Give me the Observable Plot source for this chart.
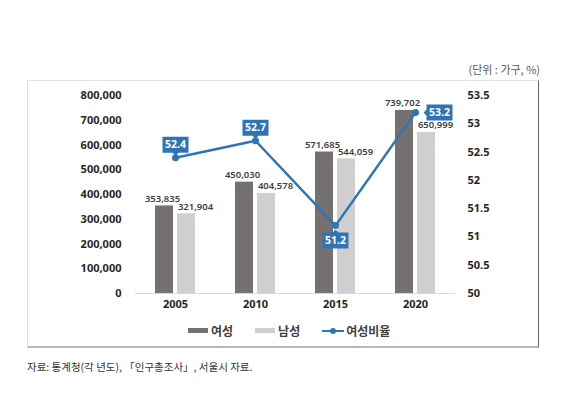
<!DOCTYPE html>
<html>
<head>
<meta charset="utf-8">
<script src="https://cdn.jsdelivr.net/npm/d3@7"></script>
<script src="https://cdn.jsdelivr.net/npm/@observablehq/plot@0.6"></script>
<style>
  html, body { margin: 0; padding: 0; background: #fff; }
  body { width: 569px; height: 396px; position: relative; overflow: hidden;
         font-family: 'Noto Sans', 'Noto Sans CJK KR', sans-serif; }
  #unit { position: absolute; right: 29px; top: 61px; font-size: 11px; color: #595959;
          font-family: 'Noto Sans CJK KR', sans-serif; }
  #frame { position: absolute; left: 27px; top: 80px; width: 512px; height: 268px;
           border-top: 1px solid #e4e4e4; border-left: 1px solid #e4e4e4;
           border-right: 1.5px solid #666; border-bottom: 2px solid #b8b8b8; box-sizing: border-box; }
  #chart { position: absolute; left: 27px; top: 80px; }
  #chart svg { overflow: visible; }
  #legend { position: absolute; left: 188px; top: 322px; display: flex; align-items: center;
            font-size: 12px; font-weight: bold; color: #404040; font-family: 'Noto Sans CJK KR', sans-serif; }
  .item { display: flex; align-items: center; margin-right: 22px; }
  .sw { width: 20px; height: 5px; margin-right: 3px; }
  .ln { width: 22px; height: 10px; margin-right: 2px; position: relative; }
  .ln::before { content: ""; position: absolute; left: 0; right: 0; top: 4px; height: 2px; background: #2e75b6; }
  .ln::after { content: ""; position: absolute; left: 8px; top: 2px; width: 6px; height: 6px; border-radius: 50%; background: #2e75b6; }
  #caption { position: absolute; left: 27px; top: 359px; font-size: 10.5px; color: #333;
             font-family: 'Noto Sans CJK KR', sans-serif; }
</style>
</head>
<body>
<div id="unit">(단위 : 가구, %)</div>
<div id="frame"></div>
<div id="chart"></div>
<div id="legend"></div>
<div id="caption">자료: 통계청(각 년도), 「인구총조사」, 서울시 자료.</div>
<script>
// ---- data ----
const years = ["2005", "2010", "2015", "2020"];
const female = [353835, 450030, 571685, 739702];
const male = [321904, 404578, 544059, 650999];
const femaleRatio = [52.4, 52.7, 51.2, 53.2];
const leftTicks = [0, 100000, 200000, 300000, 400000, 500000, 600000, 700000, 800000];
const rightTicks = [50, 50.5, 51, 51.5, 52, 52.5, 53, 53.5];
const seriesNames = ["여성", "남성", "여성비율"];

// ---- styles ----
const cFemale = "#767171";
const cMale = "#d0cece";
const cRatio = "#2e75b6";

const rows = years.map((y, i) => ({ year: y, female: female[i], male: male[i], ratio: femaleRatio[i] }));

// map the right (ratio) axis onto the left (count) scale
const rMin = rightTicks[0], rMax = rightTicks[rightTicks.length - 1];
const lMax = leftTicks[leftTicks.length - 1];
const toLeft = r => (r - rMin) / (rMax - rMin) * lMax;
const fromLeft = v => v / lMax * (rMax - rMin) + rMin;
const fmt = d3.format(",");
const fmtR = v => String(+v.toFixed(1));

// callout glyphs (box + pointer), drawn relative to the point
const calloutAbove = { draw(ctx) { ctx.rect(-13, -21, 26, 16); ctx.moveTo(-3, -5); ctx.lineTo(3, -5); ctx.lineTo(0, -2); ctx.closePath(); } };
const calloutBelow = { draw(ctx) { ctx.rect(-13, 7, 26, 16); ctx.moveTo(-3, 7); ctx.lineTo(3, 7); ctx.lineTo(0, 4); ctx.closePath(); } };
const calloutRight = { draw(ctx) { ctx.rect(11, -8, 26, 16); ctx.moveTo(11, -3); ctx.lineTo(11, 3); ctx.lineTo(8, 0); ctx.closePath(); } };

const above = rows.filter(d => d.year === "2005" || d.year === "2010");
const below = rows.filter(d => d.year === "2015");
const right = rows.filter(d => d.year === "2020");
const ry = d => toLeft(d.ratio);

const labelStyle = { fill: "#fff", fontWeight: "bold", fontSize: 10.5, text: d => fmtR(d.ratio) };

const chart = Plot.plot({
  width: 513,
  height: 240,
  marginLeft: 108,
  marginRight: 85,
  marginTop: 15,
  marginBottom: 27,
  style: { fontFamily: "'Noto Sans', 'Noto Sans CJK KR', sans-serif", fontSize: "11px", color: "#262626", background: "transparent" },
  x: { domain: years, padding: 0, axis: null, label: null },
  y: { domain: [0, lMax], axis: null, label: null },
  marks: [
    Plot.axisY(leftTicks, { anchor: "left", tickSize: 0, tickPadding: 14, tickFormat: fmt, fontWeight: "bold", fontSize: 11, label: null }),
    Plot.axisY(rightTicks.map(toLeft), { anchor: "right", tickSize: 0, tickPadding: 12, tickFormat: v => fmtR(fromLeft(v)), fontWeight: "bold", fontSize: 11, label: null }),
    Plot.axisX({ tickSize: 0, tickPadding: 7, fontWeight: "bold", fontSize: 11, label: null }),
    Plot.ruleY([0], { stroke: "#d9d9d9", strokeWidth: 1 }),
    Plot.barY(rows, { x: "year", y: "female", fill: cFemale, insetLeft: 20, insetRight: 42 }),
    Plot.barY(rows, { x: "year", y: "male", fill: cMale, insetLeft: 42, insetRight: 20 }),
    Plot.text(rows, { x: "year", y: "female", text: d => fmt(d.female), dx: -13, dy: -4, lineAnchor: "bottom", fill: "#404040", fontSize: 9.5, fontWeight: 600 }),
    Plot.text(rows, { x: "year", y: "male", text: d => fmt(d.male), dx: 20, dy: -4, lineAnchor: "bottom", fill: "#404040", fontSize: 9.5, fontWeight: 600 }),
    Plot.line(rows, { x: "year", y: ry, stroke: cRatio, strokeWidth: 2.5 }),
    Plot.dot(rows, { x: "year", y: ry, r: 3.5, fill: cRatio }),
    Plot.dot(above, { x: "year", y: ry, symbol: calloutAbove, fill: cRatio }),
    Plot.dot(below, { x: "year", y: ry, symbol: calloutBelow, fill: cRatio }),
    Plot.dot(right, { x: "year", y: ry, symbol: calloutRight, fill: cRatio }),
    Plot.text(above, { x: "year", y: ry, dy: -13, ...labelStyle }),
    Plot.text(below, { x: "year", y: ry, dy: 15, ...labelStyle }),
    Plot.text(right, { x: "year", y: ry, dx: 24, ...labelStyle })
  ]
});
document.getElementById("chart").appendChild(chart);

// legend
const legend = document.getElementById("legend");
const swatches = [`<span class="sw" style="background:${cFemale}"></span>`, `<span class="sw" style="background:${cMale}"></span>`, `<span class="ln"></span>`];
legend.innerHTML = seriesNames.map((n, i) => `<span class="item">${swatches[i]}${n}</span>`).join("");
</script>
</body>
</html>
